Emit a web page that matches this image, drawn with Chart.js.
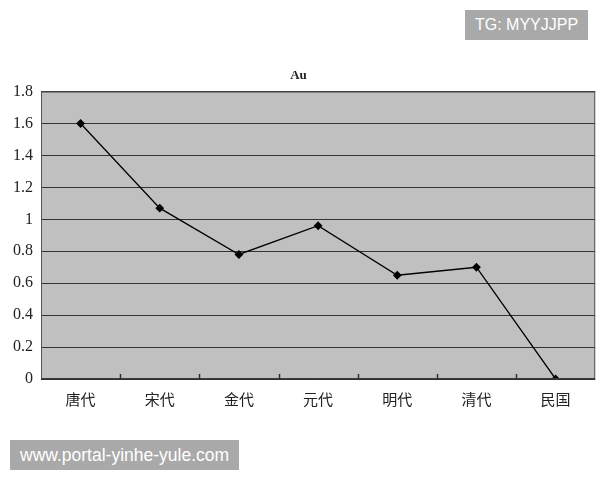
<!DOCTYPE html>
<html>
<head>
<meta charset="utf-8">
<script src="https://cdn.jsdelivr.net/npm/chart.js@4/dist/chart.umd.min.js"></script>
<style>
  body { margin: 0; background: #fff; }
  #wrap { position: relative; width: 600px; height: 480px; }
  .mark { position: absolute; background: #a9a9a9; color: #fff; font-family: "Liberation Sans", Arial, sans-serif; line-height: 30px; padding: 0 10px; }
</style>
</head>
<body>
<div id="wrap">
  <canvas id="auChart" width="600" height="480"></canvas>
  <div class="mark" style="left:465px; top:10px; font-size:16px;">TG: MYYJJPP</div>
  <div class="mark" style="left:10px; top:440px; font-size:17.5px;">www.portal-yinhe-yule.com</div>
</div>
<script>
// Dynasties and Au values
const dynasties = ['唐代', '宋代', '金代', '元代', '明代', '清代', '民国'];
const auValues = [1.6, 1.07, 0.78, 0.96, 0.65, 0.70, 0];
const yTicks = [0, 0.2, 0.4, 0.6, 0.8, 1, 1.2, 1.4, 1.6, 1.8];

// grey plot area with border, plus Excel-style inward x ticks
const plotArea = {
    id: 'plotArea',
    beforeDraw(chart) {
        const { ctx, chartArea: a } = chart;
        ctx.save();
        ctx.fillStyle = '#c0c0c0';
        ctx.fillRect(a.left, a.top, a.right - a.left, a.bottom - a.top);
        ctx.restore();
    },
    afterDatasetsDraw(chart) {
        const { ctx, chartArea: a } = chart;
        const x = chart.scales.x;
        ctx.save();
        ctx.strokeStyle = '#555';
        ctx.lineWidth = 1;
        ctx.strokeRect(a.left + 0.5, a.top + 0.5, a.right - a.left - 1, a.bottom - a.top - 1);
        ctx.strokeStyle = '#333';
        ctx.lineWidth = 1.5;
        ctx.beginPath();
        ctx.moveTo(a.left, a.bottom);
        ctx.lineTo(a.right, a.bottom);
        const step = x.getPixelForValue(1) - x.getPixelForValue(0);
        for (let i = 1; i < dynasties.length; i++) {
            const px = Math.round(x.getPixelForValue(i) - step / 2) + 0.5;
            ctx.moveTo(px, a.bottom);
            ctx.lineTo(px, a.bottom - 5);
        }
        ctx.stroke();
        ctx.restore();
    }
};

const ctx = document.getElementById('auChart').getContext('2d');
new Chart(ctx, {
    type: 'line',
    data: {
        labels: dynasties,
        datasets: [{
            label: 'Au',
            data: auValues,
            borderColor: '#000',
            borderWidth: 1.3,
            backgroundColor: '#000',
            pointStyle: 'rectRot',
            pointRadius: 3.5,
            pointHoverRadius: 3.5,
            tension: 0
        }]
    },
    options: {
        responsive: false,
        animation: false,
        layout: { padding: { top: 68, right: 3, bottom: 69, left: 0 } },
        plugins: {
            legend: { display: false },
            tooltip: { enabled: false },
            title: {
                display: true,
                text: 'Au',
                color: '#222',
                font: { family: '"Liberation Serif", serif', size: 13, weight: 'bold' },
                padding: { top: 0, bottom: 8 }
            }
        },
        scales: {
            x: {
                offset: true,
                grid: { display: false },
                border: { display: false },
                ticks: {
                    color: '#222',
                    padding: 3,
                    font: { family: '"Noto Sans CJK SC", sans-serif', size: 15 }
                }
            },
            y: {
                min: 0,
                max: 1.8,
                afterBuildTicks(scale) {
                    scale.ticks = yTicks.map(v => ({ value: v }));
                },
                afterFit(scale) { scale.width = 41; },
                grid: { color: '#333', lineWidth: 1, drawTicks: false },
                border: { display: false },
                ticks: {
                    color: '#222',
                    padding: 8,
                    font: { family: '"Liberation Serif", serif', size: 16 },
                    callback: v => String(v)
                }
            }
        }
    },
    plugins: [plotArea]
});
</script>
</body>
</html>
